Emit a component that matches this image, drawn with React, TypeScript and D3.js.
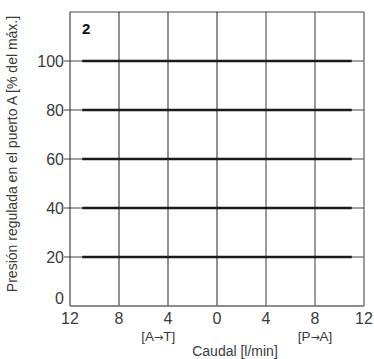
import React from "react";
import * as d3 from "d3";

const xTicks = [-12, -8, -4, 0, 4, 8, 12];
const xTickLabels = ["12", "8", "4", "0", "4", "8", "12"];
const yTicks = [0, 20, 40, 60, 80, 100];
const yGrid = [20, 40, 60, 80, 100, 120];
const pressureLevels = [20, 40, 60, 80, 100];
const flowRange = [-11, 11];
const directionLabels = [
  { x: -4.8, a: "[A", b: "T]" },
  { x: 8, a: "[P", b: "A]" },
];

export default function App() {
  const W = 374, H = 359;
  const left = 70, right = 364, top = 12, bottom = 306;
  const x = d3.scaleLinear().domain([-12, 12]).range([left, right]);
  const y = d3.scaleLinear().domain([0, 120]).range([bottom, top]);
  const line = d3.line<[number, number]>().x(d => x(d[0])).y(d => y(d[1]));
  const font = "'Liberation Sans', Arial, sans-serif";
  const txt = "#3a3a3a";
  return (
    <svg width={W} height={H} style={{ position: "absolute", left: 0, top: 0 }} fontFamily={font}>
      <rect x={0} y={0} width={W} height={H} fill="#fff" />
      {yGrid.map(v => (
        <line key={"h" + v} x1={v === 120 ? left : left - 6} x2={right} y1={y(v)} y2={y(v)} stroke="#444" strokeWidth={1} />
      ))}
      {xTicks.map(v => (
        <line key={"v" + v} x1={x(v)} x2={x(v)} y1={top} y2={bottom} stroke={v > 0 ? "#666" : "#222"} strokeWidth={v > 0 ? 1.3 : 1} />
      ))}
      <line x1={left} x2={right} y1={bottom} y2={bottom} stroke="#666" strokeWidth={1.5} />
      {pressureLevels.map(p => (
        <path key={"p" + p} d={line([[flowRange[0], p], [flowRange[1], p]])!} stroke="#1a1a1a" strokeWidth={2.5} fill="none" />
      ))}
      {yTicks.map(v => (
        <text key={"yl" + v} x={left - 6} y={y(v) + (v === 0 ? -2 : 6)} textAnchor="end" fontSize={16} fill={txt}>{v}</text>
      ))}
      {xTicks.map((v, i) => (
        <text key={"xl" + v} x={x(v)} y={bottom + 18} textAnchor="middle" fontSize={16} fill={txt}>{xTickLabels[i]}</text>
      ))}
      {directionLabels.map(d => (
        <text key={d.a} x={x(d.x)} y={bottom + 35} textAnchor="middle" fontSize={13.5} fill={txt}>
          {d.a}<tspan fontFamily="'DejaVu Sans'" fontSize={11}>{"\u2192"}</tspan>{d.b}
        </text>
      ))}
      <text x={235} y={356} textAnchor="middle" fontSize={14} fill={txt}>Caudal [l/min]</text>
      <text transform={`translate(17,154) rotate(-90)`} textAnchor="middle" fontSize={14} fill={txt}>
        Presión regulada en el puerto A [% del máx.]
      </text>
      <text x={82} y={34} fontSize={15} fontWeight="bold" fill="#111">2</text>
    </svg>
  );
}
